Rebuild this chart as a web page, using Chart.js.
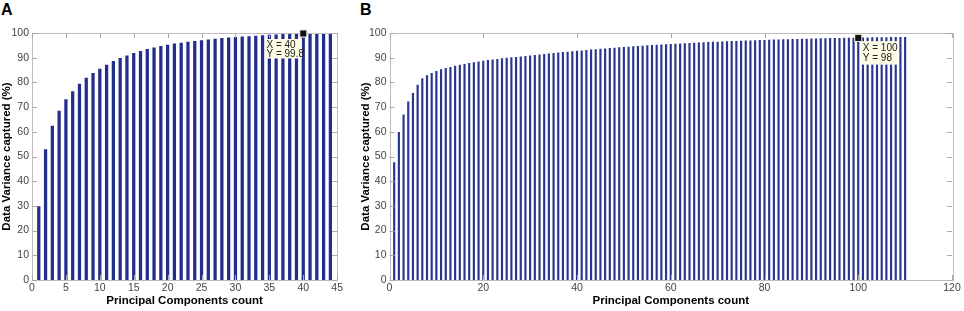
<!DOCTYPE html>
<html><head><meta charset="utf-8">
<script src="https://cdn.jsdelivr.net/npm/chart.js@4/dist/chart.umd.min.js"></script>
<style>
html,body{margin:0;padding:0;background:#fff;width:964px;height:311px;overflow:hidden;position:relative;}
#wa{position:absolute;left:0;top:0;width:345px;height:311px;}
#wb{position:absolute;left:345px;top:0;width:619px;height:311px;}
.pl{position:absolute;font:bold 16px "Liberation Sans",Arial,sans-serif;color:#000;line-height:16px;}
</style></head><body>
<div class="pl" style="left:1px;top:2px">A</div>
<div class="pl" style="left:360px;top:2px">B</div>
<div id="wa"><canvas id="ca"></canvas></div>
<div id="wb"><canvas id="cb"></canvas></div>
<script>
// ---- data ----
const compA = [1,2,3,4,5,6,7,8,9,10,11,12,13,14,15,16,17,18,19,20,21,22,23,24,25,26,27,28,29,30,31,32,33,34,35,36,37,38,39,40,41,42,43,44];
const varA = [29.7,52.8,62.3,68.4,73.0,76.3,79.3,81.7,83.7,85.4,87.0,88.5,89.7,90.8,91.8,92.6,93.4,94.0,94.6,95.1,95.6,95.9,96.3,96.6,96.9,97.2,97.5,97.8,98.0,98.2,98.4,98.6,98.8,99.0,99.2,99.3,99.5,99.6,99.7,99.8,100,100,100,100];
const compB = [1,2,3,4,5,6,7,8,9,10,11,12,13,14,15,16,17,18,19,20,21,22,23,24,25,26,27,28,29,30,31,32,33,34,35,36,37,38,39,40,41,42,43,44,45,46,47,48,49,50,51,52,53,54,55,56,57,58,59,60,61,62,63,64,65,66,67,68,69,70,71,72,73,74,75,76,77,78,79,80,81,82,83,84,85,86,87,88,89,90,91,92,93,94,95,96,97,98,99,100,101,102,103,104,105,106,107,108,109,110];
const varB = [47.5,59.8,66.9,72.1,75.6,78.9,81.5,82.8,83.7,84.5,85.2,85.7,86.1,86.6,87.0,87.3,87.7,88.0,88.3,88.6,88.9,89.1,89.3,89.6,89.8,90.0,90.2,90.4,90.6,90.8,91.0,91.2,91.4,91.6,91.8,92.0,92.2,92.3,92.5,92.7,92.8,93.0,93.2,93.3,93.5,93.6,93.8,93.9,94.1,94.2,94.3,94.5,94.6,94.7,94.9,95.0,95.1,95.2,95.3,95.4,95.5,95.6,95.7,95.8,95.9,96.0,96.1,96.2,96.3,96.3,96.4,96.5,96.6,96.6,96.7,96.8,96.8,96.9,97.0,97.0,97.1,97.2,97.2,97.3,97.3,97.4,97.4,97.5,97.5,97.6,97.6,97.7,97.7,97.8,97.8,97.8,97.9,97.9,97.9,98.0,98.0,98.0,98.1,98.1,98.1,98.1,98.2,98.2,98.2,98.2];
const xTicksA = [0,5,10,15,20,25,30,35,40,45];
const xTicksB = [0,20,40,60,80,100,120];
const yTicks = [0,10,20,30,40,50,60,70,80,90,100];
const tipA = {x:40, y:99.8, lines:['X = 40','Y = 99.8']};
const tipB = {x:100, y:98, lines:['X = 100','Y = 98']};
const xTitle = 'Principal Components count';
const yTitle = 'Data Variance captured (%)';

// ---- rendering ----
const FONT = '"Liberation Sans", Arial, Helvetica, sans-serif';
Chart.defaults.font.family = FONT;
Chart.defaults.animation = false;

const framePlugin = {
  id:'frame',
  afterDraw(chart, args, opts){
    const {ctx, chartArea:a, scales:{x,y}} = chart;
    ctx.save();
    // frame
    ctx.strokeStyle = '#bdbdbd';
    ctx.lineWidth = 1;
    ctx.strokeRect(Math.round(a.left)+0.5, Math.round(a.top)+0.5, Math.round(a.right-a.left), Math.round(a.bottom-a.top));
    // inward ticks
    ctx.strokeStyle = '#aaaaaa';
    ctx.beginPath();
    const L = 5;
    x.ticks.forEach(tk => {
      const px = Math.round(x.getPixelForValue(tk.value))+0.5;
      ctx.moveTo(px, a.bottom); ctx.lineTo(px, a.bottom-L);
      ctx.moveTo(px, a.top); ctx.lineTo(px, a.top+L);
    });
    y.ticks.forEach(tk => {
      const py = Math.round(y.getPixelForValue(tk.value))+0.5;
      ctx.moveTo(a.left, py); ctx.lineTo(a.left+L, py);
      ctx.moveTo(a.right, py); ctx.lineTo(a.right-L, py);
    });
    ctx.stroke();
    // datatip
    const t = opts.tip;
    const mx = x.getPixelForValue(t.x), my = y.getPixelForValue(t.y);
    let bx, by, tx, ty, bh, dl;
    if (opts.side === 'left'){ bx = mx-38; by = my+5.5; tx = mx-36.8; ty = my+11.3; bh = 19.5; dl = 9.2; }
    else { bx = mx+2.2; by = my+3.2; tx = mx+4.5; ty = my+10.5; bh = 23.5; dl = 10; }
    ctx.fillStyle = '#fbfbe4';
    ctx.fillRect(bx, by, 36.7, bh);
    ctx.fillStyle = '#e8e8d8';
    ctx.fillRect(mx-4, my-4, 8, 8);
    ctx.fillStyle = '#111';
    ctx.fillRect(mx-3, my-3, 6, 6);
    ctx.font = '10px ' + FONT;
    ctx.textAlign = 'left';
    ctx.textBaseline = 'middle';
    ctx.fillStyle = '#222';
    ctx.fillText(t.lines[0], tx, ty);
    ctx.fillText(t.lines[1], tx, ty + dl);
    ctx.restore();
  }
};

function makeChart(id, comps, vals, xTicks, xMax, tip, side, opt){
  return new Chart(document.getElementById(id), {
    type:'bar',
    data:{datasets:[{
      data: comps.map((c,i)=>({x:c, y:vals[i]})),
      backgroundColor: opt.color,
      borderWidth:0,
      barThickness: opt.bar
    }]},
    options:{
      responsive:true, maintainAspectRatio:false,
      layout:{padding:{top:opt.top, right:opt.right, left:opt.left, bottom:0}},
      plugins:{legend:{display:false}, tooltip:{enabled:false}, frame:{tip, side}},
      scales:{
        x:{type:'linear', min:0, max:xMax, offset:false,
           grid:{display:false, drawTicks:false}, border:{display:false},
           afterBuildTicks: s => { s.ticks = xTicks.map(v=>({value:v})); },
           afterFit: s => { s.height = 31; },
           ticks:{padding:2, color:'#444', font:{size:10.5}, maxRotation:0, autoSkip:false},
           title:{display:true, text:xTitle, color:'#000', font:{size:11.5, weight:'bold'}, padding:{top:0,bottom:3}}},
        y:{min:0, max:100,
           grid:{display:false, drawTicks:false}, border:{display:false},
           afterBuildTicks: s => { s.ticks = yTicks.map(v=>({value:v})); },
           afterFit: s => { s.width = opt.yw; },
           ticks:{padding:3, color:'#444', font:{size:10.5}, autoSkip:false},
           title:{display:true, text:yTitle, color:'#000', font:{size:11.5, weight:'bold'}, padding:{top:0,bottom:0}}}
      }
    },
    plugins:[framePlugin]
  });
}

makeChart('ca', compA, varA, xTicksA, 45, tipA, 'left', {color:'#232d8c', bar:2.6, top:33, right:7, left:0, yw:32});
makeChart('cb', compB, varB, xTicksB, 120, tipB, 'right', {color:'#2b3590', bar:1.5, top:33, right:12, left:13.5, yw:31});
</script>
</body></html>
